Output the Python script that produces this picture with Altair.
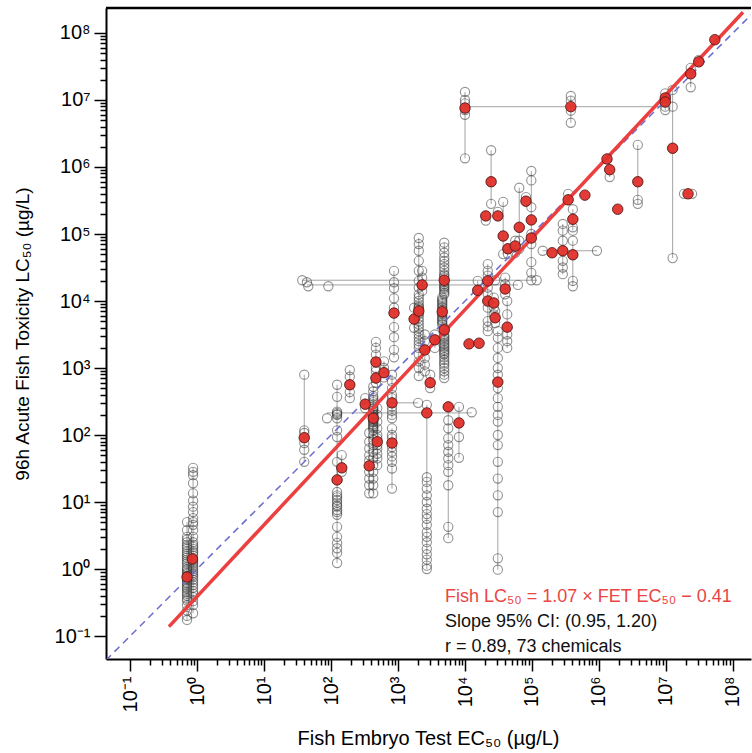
import json
import altair as alt
import pandas as pd

# ---------------- data (log10 of µg/L) ----------------
# each chemical group: one FET EC50 value and its individual fish LC50 values
group_fet_log10 = [
    -0.15, -0.06, 1.60, 2.09, 2.16, 2.28, 2.51, 2.57, 2.63, 2.67, 2.67, 2.69, 2.79,
    2.94, 2.91, 2.91, 3.31, 3.24, 3.36, 3.40, 3.43, 3.48, 3.55, 3.69, 3.66, 3.69,
    3.75, 3.91, 4.00, 4.39, 4.31, 4.49, 4.34, 4.34, 4.43, 4.45, 4.49, 4.60, 4.63,
    4.19, 4.81, 4.99, 4.99, 4.91, 4.57, 4.64, 4.75, 5.58, 5.54, 5.61, 5.61, 5.46,
    6.16, 6.58, 7.10, 6.99, 7.37, 7.49,
]
group_lc50_log10 = [
    [0.70, 0.58, 0.48, 0.44, 0.40, 0.36, 0.33, 0.30, 0.26, 0.23, 0.20, 0.17, 0.14,
     0.11, 0.08, 0.03, 0.00, -0.02, -0.05, -0.07, -0.10, -0.12, -0.15, -0.17, -0.20,
     -0.22, -0.25, -0.28, -0.30, -0.34, -0.37, -0.40, -0.44, -0.47, -0.54, -0.62,
     -0.70, -0.76],
    [1.51, 1.45, 1.40, 1.28, 1.13, 1.02, 0.93, 0.85, 0.76, 0.70, 0.66, 0.58, 0.48,
     0.40, 0.36, 0.33, 0.30, 0.26, 0.24, 0.20, 0.15, 0.12, 0.09, 0.06, 0.03, 0.00,
     -0.03, -0.06, -0.09, -0.12, -0.16, -0.20, -0.24, -0.28, -0.33, -0.37, -0.42,
     -0.48, -0.54, -0.66],
    [2.90, 2.07, 2.03, 1.96, 1.88, 1.78, 1.60],
    [2.75, 2.57, 2.35, 2.33, 2.31, 2.30, 2.25, 2.07, 1.97, 1.60, 1.33, 1.15, 1.10,
     1.07, 1.03, 0.99, 0.95, 0.93, 0.88, 0.85, 0.81, 0.63, 0.48, 0.39, 0.31, 0.24, 0.09],
    [1.70, 1.51, 1.45],
    [2.97, 2.87, 2.75, 2.64, 2.55],
    [2.55, 2.46, 2.40],
    [2.03, 1.90, 1.80, 1.70, 1.62, 1.54, 1.45, 1.35, 1.25, 1.13],
    [2.72, 2.65, 2.58, 2.55, 2.52, 2.49, 2.46, 2.43, 2.40, 2.38, 2.36, 2.33, 2.31,
     2.30, 2.28, 2.27, 2.25, 2.24, 2.22, 2.20, 2.19, 2.16, 2.14, 2.12, 2.10, 2.07,
     2.00, 1.93, 1.85, 1.75, 1.66, 1.55, 1.45, 1.35, 1.25, 1.13],
    [3.39, 3.30, 3.20, 3.09, 3.00],
    [2.95, 2.85, 2.78],
    [2.40, 2.30, 2.20, 2.10, 2.00, 1.95, 1.90, 1.85, 1.80, 1.72, 1.65, 1.55],
    [3.10, 3.00, 2.93, 2.86],
    [4.45, 4.28, 4.19, 4.04, 3.90, 3.82, 3.61, 3.46, 3.27, 3.16],
    [2.90, 2.80, 2.70, 2.60, 2.55, 2.48, 2.42, 2.36, 2.30, 2.25],
    [2.10, 2.00, 1.95, 1.88, 1.82, 1.75, 1.68, 1.60, 1.50, 1.20],
    [4.94, 4.85, 4.75, 4.60, 4.45, 4.30, 4.20, 4.10, 4.05, 4.00, 3.95, 3.92, 3.90,
     3.88, 3.85, 3.82, 3.80, 3.75, 3.70, 3.65, 3.60, 3.55, 3.50, 3.45, 3.40, 3.35,
     3.30, 3.20, 3.10, 3.00, 2.88],
    [3.90, 3.73, 3.60],
    [4.45, 4.35, 4.24, 4.15],
    [3.50, 3.40, 3.27, 3.15, 3.05, 2.95],
    [2.45, 2.33, 1.37, 1.30, 1.20, 1.10, 1.00, 0.90, 0.82, 0.75, 0.66, 0.55, 0.48,
     0.40, 0.30, 0.22, 0.14, 0.05, 0.00],
    [2.90, 2.78, 2.70],
    [3.50, 3.42, 3.30],
    [4.87, 4.80, 4.72, 4.65, 4.60, 4.55, 4.50, 4.45, 4.40, 4.38, 4.35, 4.31, 4.28,
     4.25, 4.22, 4.20, 4.18, 4.15, 4.12, 4.10],
    [4.05, 4.02, 4.00, 3.97, 3.95, 3.92, 3.90, 3.87, 3.84, 3.82, 3.80, 3.77, 3.75,
     3.72, 3.70, 3.67, 3.65],
    [3.60, 3.57, 3.55, 3.50, 3.47, 3.45, 3.42, 3.40, 3.37, 3.35, 3.32, 3.30, 3.27,
     3.25, 3.22, 3.20, 3.16, 3.12, 3.08, 3.05, 3.00, 2.95, 2.90, 2.85],
    [2.42, 2.22, 2.10, 1.95, 1.85, 1.75, 1.65, 1.55, 1.45, 1.25, 0.63, 0.46],
    [2.42, 2.18, 1.97, 1.66],
    [7.12, 7.00, 6.95, 6.88, 6.85, 6.78, 6.13],
    [6.25, 5.78, 5.45],
    [5.27, 5.20],
    [5.33, 5.27],
    [4.55, 4.45, 4.38, 4.30, 4.20, 3.70, 3.62, 3.55],
    [4.10, 4.00, 3.90],
    [4.05, 3.97, 3.90, 3.80],
    [3.85, 3.75, 3.67],
    [3.55, 3.45, 3.30, 3.15, 3.00, 2.90, 2.79, 2.70, 2.55, 2.42, 2.30, 2.20, 2.00,
     1.85, 1.60, 1.35, 1.10, 0.85, 0.16, -0.01],
    [4.35, 4.25, 4.18, 4.10],
    [4.00, 3.80, 3.61, 3.50, 3.40, 3.30],
    [4.30, 4.16],
    [5.69, 5.10, 4.90, 4.78],
    [5.94, 5.80, 5.40, 5.21, 5.00],
    [4.94, 4.85, 4.58, 4.42, 4.31],
    [5.55, 5.49],
    [5.48, 4.97, 4.70],
    [4.78, 4.70],
    [4.90, 4.82, 4.72],
    [7.06, 6.99, 6.84, 6.66],
    [5.60, 5.51],
    [5.37, 5.22, 5.10, 5.05],
    [4.90, 4.69, 4.30, 4.22],
    [5.15, 5.05, 4.90, 4.75, 4.60, 4.50, 4.40],
    [5.96, 5.85],
    [6.33, 5.78, 5.51, 5.45],
    [7.15, 6.90, 6.28, 4.64],
    [7.10, 7.03, 6.97, 6.90, 6.85],
    [7.48, 7.39, 7.19],
    [7.60, 7.57],
]

# chemicals tested at several FET concentrations (horizontal ranges)
hseg_lc50_log10 = [4.31, 4.24, 2.48, 2.33, 4.75, 6.90, 5.60]
hseg_fet_from_log10 = [1.57, 1.64, 2.91, 1.94, 5.16, 4.00, 7.27]
hseg_fet_to_log10 = [5.07, 4.79, 3.30, 4.10, 5.97, 6.99, 7.39]
extra_fet_log10 = [1.57, 1.64, 1.66, 1.96, 4.45, 5.07, 4.79, 3.30, 1.94, 4.10, 5.16, 5.97, 7.27, 7.39]
extra_lc50_log10 = [4.31, 4.28, 4.22, 4.22, 4.31, 4.31, 4.24, 2.48, 2.25, 2.34, 4.75, 4.75, 5.60, 5.60]

# per-chemical summary values (red points)
mean_fet_log10 = [
    -0.15, -0.07, 1.60, 2.16, 2.09, 2.28, 2.51, 2.57, 2.63, 2.69, 2.67, 2.67, 2.79,
    2.91, 2.91, 2.94, 3.24, 3.31, 3.36, 3.43, 3.48, 3.40, 3.55, 3.66, 3.69, 3.69,
    3.75, 3.91, 4.00, 4.06, 4.21, 4.19, 4.34, 4.34, 4.43, 4.45, 4.60, 4.63, 4.49,
    4.31, 4.49, 4.39, 4.57, 4.64, 4.75, 4.81, 4.91, 4.99, 4.99, 5.30, 5.46, 5.61,
    5.61, 5.54, 5.58, 5.79, 6.12, 6.16, 6.28, 6.58, 6.99, 6.99, 7.10, 7.33, 7.37,
    7.49, 7.73,
]
mean_lc50_log10 = [
    -0.12, 0.15, 1.96, 1.51, 1.33, 2.75, 2.46, 1.54, 2.25, 1.90, 3.09, 2.85, 2.93,
    2.48, 1.88, 3.82, 3.73, 3.85, 4.24, 2.33, 2.78, 3.27, 3.42, 3.84, 4.31, 3.57,
    2.42, 2.18, 6.88, 3.36, 3.37, 4.16, 4.30, 4.00, 3.97, 3.75, 4.18, 3.61, 2.79,
    5.27, 5.27, 5.78, 4.97, 4.78, 4.82, 5.10, 5.49, 5.21, 4.94, 4.72, 4.75, 4.69,
    5.22, 5.51, 6.90, 5.58, 6.12, 5.96, 5.37, 5.78, 7.03, 6.97, 6.28, 5.60, 7.39,
    7.57, 7.90,
]

# regression: log Fish LC50 = 1.07 * log FET EC50 - 0.41
fit_slope = 1.07
fit_intercept = -0.41
fit_fet_range_log10 = [-0.42, 8.15]

x_domain_log10 = [-1.36, 8.27]
y_domain_log10 = [-1.343, 8.373]

tick_labels = ["10⁻¹", "10⁰", "10¹", "10²", "10³", "10⁴", "10⁵", "10⁶", "10⁷", "10⁸"]

annotation_lines = [
    "Fish LC₅₀ = 1.07 × FET EC₅₀ − 0.41",
    "Slope 95% CI: (0.95, 1.20)",
    "r = 0.89, 73 chemicals",
]
annotation_colors = ["#ea4545", "#111111", "#111111"]

# ---------------- tables ----------------
pt_rows, v_rows = [], []
for gx, ys in zip(group_fet_log10, group_lc50_log10):
    for gy in ys:
        pt_rows.append({"fet": 10 ** gx, "lc": 10 ** gy})
    if len(ys) > 1:
        v_rows.append({"fet": 10 ** gx, "lo": 10 ** min(ys), "hi": 10 ** max(ys)})
for ex, ey in zip(extra_fet_log10, extra_lc50_log10):
    pt_rows.append({"fet": 10 ** ex, "lc": 10 ** ey})
points = pd.DataFrame(pt_rows)
vsegs = pd.DataFrame(v_rows)
hsegs = pd.DataFrame({
    "lc": [10 ** v for v in hseg_lc50_log10],
    "x1": [10 ** v for v in hseg_fet_from_log10],
    "x2": [10 ** v for v in hseg_fet_to_log10],
})
means = pd.DataFrame({
    "fet": [10 ** v for v in mean_fet_log10],
    "lc": [10 ** v for v in mean_lc50_log10],
})
one_to_one = pd.DataFrame({
    "fet": [10 ** x_domain_log10[0], 10 ** x_domain_log10[1]],
    "lc": [10 ** x_domain_log10[0], 10 ** x_domain_log10[1]],
})
fit = pd.DataFrame({
    "fet": [10 ** v for v in fit_fet_range_log10],
    "lc": [10 ** (fit_slope * v + fit_intercept) for v in fit_fet_range_log10],
})

# ---------------- axes ----------------
tick_values = [m * 10 ** k for k in range(-1, 8) for m in range(1, 10)] + [1e8]
major_test = "abs(log(datum.value)/LN10 - round(log(datum.value)/LN10)) < 1e-6"
label_expr = (
    f"({major_test}) ? {json.dumps(tick_labels, ensure_ascii=False)}"
    f"[round(log(datum.value)/LN10) + 1] : ''"
)
tick_size = {"condition": {"test": major_test, "value": 12}, "value": 6}
FONT = "Liberation Sans"

W, H = 645, 651

x_scale = alt.Scale(type="log", domain=[10 ** x_domain_log10[0], 10 ** x_domain_log10[1]], nice=False)
y_scale = alt.Scale(type="log", domain=[10 ** y_domain_log10[0], 10 ** y_domain_log10[1]], nice=False)

x_axis = alt.Axis(
    values=tick_values, labelExpr=label_expr, tickSize=tick_size, tickColor="black",
    tickWidth=1.5, domainColor="black", domainWidth=2, grid=False,
    labelAngle=270, labelAlign="right", labelBaseline="middle", labelFont=FONT,
    labelFontSize=20, labelColor="black", labelPadding=5, labelOverlap=False,
    labelFlush=False, labelBound=False,
    title="Fish Embryo Test EC₅₀ (µg/L)", titleFont=FONT, titleFontSize=20,
    titleFontWeight="normal", titleColor="black", titleX=322, titleY=79,
    titleAlign="center", titleBaseline="middle",
)
y_axis = alt.Axis(
    values=tick_values, labelExpr=label_expr, tickSize=tick_size, tickColor="black",
    tickWidth=1.5, domainColor="black", domainWidth=2, grid=False,
    labelAngle=0, labelAlign="right", labelBaseline="middle", labelFont=FONT,
    labelFontSize=20, labelColor="black", labelPadding=4, labelOverlap=False,
    labelFlush=False, labelBound=False,
    title="96h Acute Fish Toxicity LC₅₀ (µg/L)", titleFont=FONT, titleFontSize=19,
    titleFontWeight="normal", titleColor="black", titleAngle=270, titleX=-84,
    titleY=H / 2, titleAlign="center", titleBaseline="middle",
)

X = alt.X("fet:Q", scale=x_scale, axis=x_axis)
Y = alt.Y("lc:Q", scale=y_scale, axis=y_axis)

vlayer = alt.Chart(vsegs).mark_rule(color="#8c8c8c", strokeWidth=1, opacity=0.8).encode(
    x=alt.X("fet:Q", scale=x_scale, axis=x_axis),
    y=alt.Y("lo:Q", scale=y_scale, axis=y_axis), y2="hi:Q")
hlayer = alt.Chart(hsegs).mark_rule(color="#8c8c8c", strokeWidth=1, opacity=0.8).encode(
    x=alt.X("x1:Q", scale=x_scale, axis=x_axis), x2="x2:Q",
    y=alt.Y("lc:Q", scale=y_scale, axis=y_axis))
gray = alt.Chart(points).mark_point(
    shape="circle", filled=False, size=85, stroke="#3a3a3a", strokeWidth=1.1, opacity=0.55
).encode(x=X, y=Y)
ident = alt.Chart(one_to_one).mark_line(
    color="#6a6ad0", strokeWidth=1.5, strokeDash=[7, 5], clip=True).encode(x=X, y=Y)
fitl = alt.Chart(fit).mark_line(color="#ec3f3f", strokeWidth=3.5, clip=True).encode(x=X, y=Y)
red = alt.Chart(means).mark_point(
    shape="circle", filled=True, size=110, fill="#e2302b", stroke="#4a1414",
    strokeWidth=0.8, opacity=1, fillOpacity=0.95
).encode(x=X, y=Y)

ann_layers = []
for i, (line, col) in enumerate(zip(annotation_lines, annotation_colors)):
    ann_layers.append(
        alt.Chart(pd.DataFrame({"text": [line]})).mark_text(
            align="left", baseline="middle", font=FONT, fontSize=18, color=col
        ).encode(x=alt.value(339), y=alt.value(589 + 25 * i), text="text:N")
    )

top = alt.Chart(pd.DataFrame({"k": [0]})).mark_rule(color="black", strokeWidth=2.5).encode(
    x=alt.value(0), x2=alt.value(W), y=alt.value(0))

chart = alt.layer(vlayer, hlayer, gray, ident, fitl, red, *ann_layers, top).properties(
    width=W, height=H,
    padding={"left": 106, "top": 8, "right": 1, "bottom": 94},
    autosize=alt.AutoSizeParams(type="none"),
).configure_view(stroke=None)

chart.save("out.html", embed_options={"renderer": "svg", "actions": False})
